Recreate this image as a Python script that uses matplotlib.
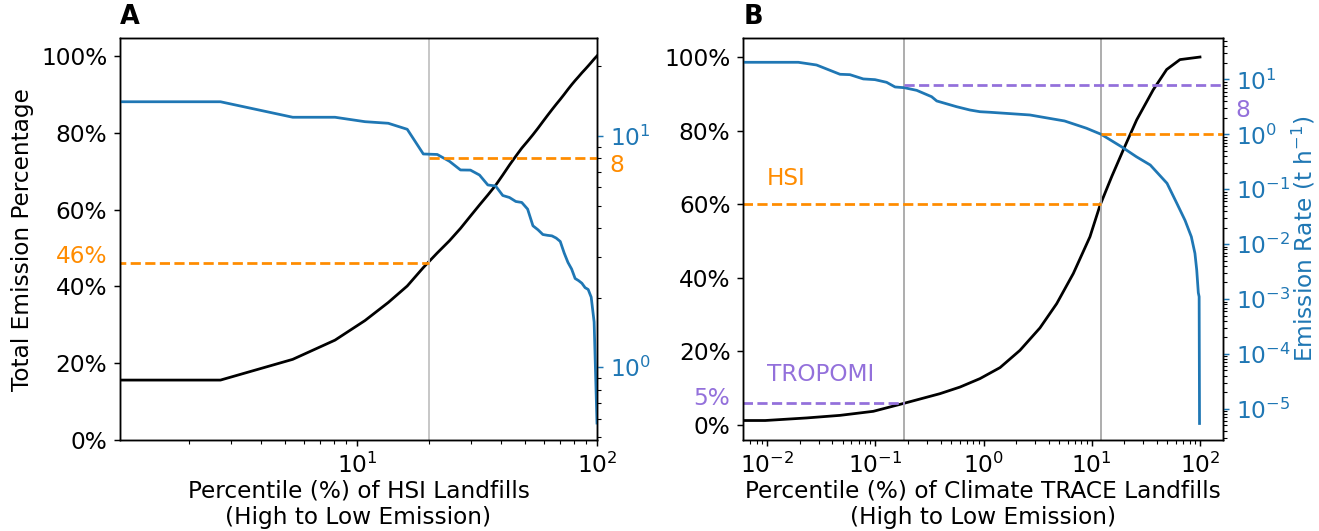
import numpy as np
import matplotlib
matplotlib.use('Agg')
import matplotlib.pyplot as plt
import matplotlib.transforms as mtransforms
from matplotlib.ticker import FuncFormatter, NullFormatter, LogLocator, MultipleLocator

BLUE = '#1f77b4'
ORANGE = '#ff8c00'
PURPLE = '#9370db'

# ---------------- Panel A (HSI landfills) ----------------
pct_A = [0, 2.7, 5.4, 8.1, 10.8, 13.5, 16.2, 18.9, 21.6, 24.3, 27.0, 29.7, 32.4,
         35.1, 37.8, 40.5, 43.2, 45.9, 48.6, 51.4, 54.1, 56.8, 59.5, 62.2, 64.9,
         67.6, 70.3, 73.0, 75.7, 78.4, 81.1, 83.8, 86.5, 89.2, 91.9, 94.6, 97.3, 100.0]
cum_A = [15.6, 15.6, 21.0, 26.0, 31.1, 35.8, 40.1, 44.9, 48.7, 51.9, 55.1, 58.3, 61.2,
         63.8, 66.3, 69.0, 71.6, 73.9, 76.0, 77.8, 79.5, 81.2, 82.9, 84.5, 86.0,
         87.4, 88.7, 90.0, 91.3, 92.5, 93.6, 94.6, 95.6, 96.5, 97.4, 98.3, 99.2, 100.0]
rate_A = [14.06, 14.06, 12.05, 12.05, 11.53, 11.35, 10.69, 8.36, 8.32, 7.77, 7.13, 7.12, 6.78,
          6.14, 6.08, 5.53, 5.42, 5.21, 5.16, 4.83, 4.09, 3.93, 3.75, 3.72, 3.70,
          3.62, 3.50, 3.12, 2.84, 2.66, 2.42, 2.37, 2.31, 2.21, 2.17, 2.01, 1.57, 0.574]
thr_pct_A = 20
thr_cum_A = 46
thr_rate_A = 8

# ---------------- Panel B (Climate TRACE landfills) ----------------
pct_B_cum = [0, 0.0096, 0.0232, 0.0471, 0.0957, 0.185, 0.395, 0.605, 0.926, 1.42, 2.17,
             3.32, 4.74, 6.75, 9.62, 11.9, 15.3, 19.6, 26.0, 37.0, 49.2, 65.3, 100]
cum_B = [1.0, 1.1, 1.8, 2.5, 3.6, 5.8, 8.4, 10.2, 12.5, 15.5, 20.2,
         26.3, 32.9, 41.1, 51.1, 59.6, 67.5, 74.8, 82.9, 91.1, 96.6, 99.3, 100.0]
pct_B_rate = [0, 0.0096, 0.0194, 0.0286, 0.0471, 0.0582, 0.0773, 0.0991, 0.127, 0.152,
              0.185, 0.241, 0.331, 0.369, 0.564, 0.748, 0.926, 1.146, 2.68, 3.32, 5.60,
              8.93, 12.2, 18.8, 25.8, 34.7, 49.6, 61.1, 72.8, 83.2, 89.8, 93.3, 96.5,
              98.2, 99.0]
rate_B = [20.5, 20.5, 20.5, 18.3, 12.4, 12.2, 10.2, 9.9, 8.85, 7.28,
          7.06, 6.32, 4.84, 4.05, 3.18, 2.77, 2.58, 2.52, 2.25, 2.09, 1.75,
          1.29, 1.0, 0.594, 0.391, 0.276, 0.128, 0.0553, 0.027, 0.0136, 0.00679,
          0.00337, 0.0013, 0.0011, 0.0000054]
tropomi_pct_B = 0.185
tropomi_cum_B = 5.8
tropomi_rate_B = 8
hsi_pct_B = 12.2
hsi_cum_B = 60
hsi_rate_B = 1.0

plt.rcParams['font.family'] = 'DejaVu Sans'
plt.rcParams['font.size'] = 12.7

DPI = 132
fig = plt.figure(figsize=(1319 / DPI, 531 / DPI), dpi=DPI)
axA = fig.add_axes([0.0910, 0.1714, 0.3616, 0.7565])
axB = fig.add_axes([0.5635, 0.1714, 0.3635, 0.7565])

pct_fmt = FuncFormatter(lambda v, p: f'{v:.0f}%')


def style_log_x(ax):
    ax.xaxis.set_major_locator(LogLocator(base=10, numticks=20))
    ax.xaxis.set_minor_locator(LogLocator(base=10, subs=np.arange(2, 10), numticks=20))
    ax.xaxis.set_minor_formatter(NullFormatter())


def style_right(ax2):
    ax2.set_yscale('log')
    ax2.yaxis.set_major_locator(LogLocator(base=10, numticks=20))
    ax2.yaxis.set_minor_locator(LogLocator(base=10, subs=np.arange(2, 10), numticks=20))
    ax2.yaxis.set_minor_formatter(NullFormatter())
    ax2.tick_params(axis='y', which='major', colors=BLUE)
    ax2.tick_params(axis='y', which='minor', colors='black')


# ---- Panel A ----
axA.set_xscale('log', nonpositive='clip')
axA.plot(pct_A, cum_A, color='black', lw=1.5)
axA.axvline(thr_pct_A, color='#c4c4c4', lw=1.0)
axA.plot([0, thr_pct_A], [thr_cum_A, thr_cum_A], ls='--', color=ORANGE, lw=1.5)
axA.set_ylim(0, 104.6)
axA.yaxis.set_major_locator(MultipleLocator(20))
axA.yaxis.set_major_formatter(pct_fmt)
axA.set_ylabel('Total Emission Percentage')
axA.set_xlabel('Percentile (%) of HSI Landfills\n(High to Low Emission)', labelpad=0.8)
style_log_x(axA)

axA2 = axA.twinx()
style_right(axA2)
axA2.plot(pct_A, rate_A, color=BLUE, lw=1.5)
axA2.plot([thr_pct_A, 1000], [thr_rate_A, thr_rate_A], ls='--', color=ORANGE, lw=1.5)
axA2.set_ylim(10 ** -0.3143, 10 ** 1.4224)
axA.set_xlim(1.03, 100)

tA = mtransforms.blended_transform_factory(axA.transAxes, axA.transData)
axA.annotate('46%', xy=(0, 47.7), xycoords=tA, xytext=(-7, 0), textcoords='offset points',
             ha='right', va='center', color=ORANGE)
tA2 = mtransforms.blended_transform_factory(axA2.transAxes, axA2.transData)
axA2.annotate('8', xy=(1, 7.45), xycoords=tA2, xytext=(7, 0), textcoords='offset points',
              ha='left', va='center', color=ORANGE)
axA.text(0, 1.02, 'A', transform=axA.transAxes, fontsize=14, fontweight='bold',
         ha='left', va='bottom')

# ---- Panel B ----
axB.set_xscale('log', nonpositive='clip')
axB.plot(pct_B_cum, cum_B, color='black', lw=1.5)
axB.axvline(tropomi_pct_B, color='#a8a8a8', lw=1.0)
axB.axvline(hsi_pct_B, color='#a8a8a8', lw=1.0)
axB.plot([0, tropomi_pct_B], [tropomi_cum_B, tropomi_cum_B], ls='--', color=PURPLE, lw=1.5)
axB.plot([0, hsi_pct_B], [hsi_cum_B, hsi_cum_B], ls='--', color=ORANGE, lw=1.5)
axB.set_ylim(-4.2, 105.1)
axB.yaxis.set_major_locator(MultipleLocator(20))
axB.yaxis.set_major_formatter(pct_fmt)
axB.set_xlabel('Percentile (%) of Climate TRACE Landfills\n(High to Low Emission)', labelpad=0.8)
style_log_x(axB)

axB2 = axB.twinx()
style_right(axB2)
axB2.plot(pct_B_rate, rate_B, color=BLUE, lw=1.5)
axB2.plot([tropomi_pct_B, 1e4], [tropomi_rate_B, tropomi_rate_B], ls='--', color=PURPLE, lw=1.5)
axB2.plot([hsi_pct_B, 1e4], [hsi_rate_B, hsi_rate_B], ls='--', color=ORANGE, lw=1.5)
axB2.set_ylim(10 ** -5.568, 10 ** 1.749)
axB2.set_ylabel('Emission Rate (t h$^{-1}$)', color=BLUE, labelpad=0)
axB.set_xlim(10 ** -2.221, 10 ** 2.21)

tB = mtransforms.blended_transform_factory(axB.transAxes, axB.transData)
axB.annotate('5%', xy=(0, 7.2), xycoords=tB, xytext=(-7, 0), textcoords='offset points',
             ha='right', va='center', color=PURPLE)
axB.text(0.01, 67.0, 'HSI', color=ORANGE, ha='left', va='center')
axB.text(0.01, 13.6, 'TROPOMI', color=PURPLE, ha='left', va='center')
tB2 = mtransforms.blended_transform_factory(axB2.transAxes, axB2.transData)
axB2.annotate('8', xy=(1, 2.7), xycoords=tB2, xytext=(7, 0), textcoords='offset points',
              ha='left', va='center', color=PURPLE)
axB.text(0, 1.02, 'B', transform=axB.transAxes, fontsize=14, fontweight='bold',
         ha='left', va='bottom')

fig.savefig('out.png', dpi=DPI)
